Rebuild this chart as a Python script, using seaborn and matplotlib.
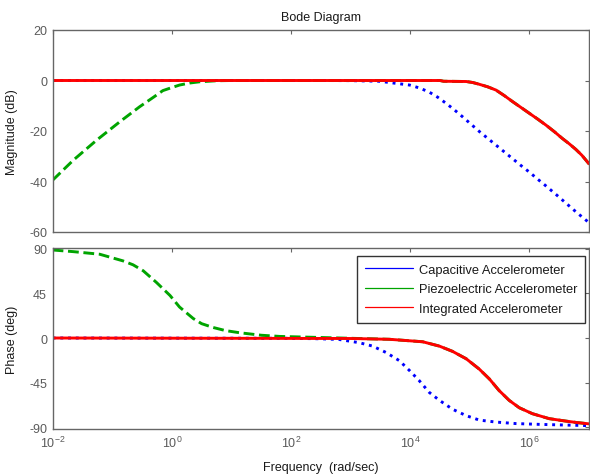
import numpy as np
import pandas as pd
import matplotlib
matplotlib.use("Agg")
import matplotlib.pyplot as plt
from matplotlib.lines import Line2D
from matplotlib.ticker import LogLocator, NullLocator
import seaborn as sns

# Values (frequency given as log10 of rad/sec)
cap_mag_logw = [-2.0, 2.5, 3.0, 3.48, 3.99, 4.16, 4.32, 4.46, 4.60, 4.74, 4.88, 5.02, 5.16,
                5.30, 5.44, 5.58, 5.72, 5.86, 6.0, 6.14, 6.28, 6.45, 6.61, 6.80, 7.0]
cap_mag_db = [0.0, 0.0, -0.05, -0.3, -1.8, -3.0, -4.6, -6.6, -9.0, -11.6, -14.4, -17.3, -20.2,
              -22.9, -25.6, -28.3, -31.0, -33.7, -36.3, -39.1, -41.8, -45.2, -48.5, -52.4, -56.3]

int_mag_logw = [-2.0, 4.0, 4.50, 4.56, 4.94, 5.05, 5.16, 5.30, 5.44, 5.58, 5.72, 5.86, 6.0,
                6.14, 6.28, 6.42, 6.55, 6.67, 6.78, 6.88, 7.0]
int_mag_db = [0.0, 0.0, 0.0, -0.3, -0.4, -0.8, -1.5, -2.5, -3.8, -6.0, -8.4, -10.7, -13.0,
              -15.3, -17.7, -20.3, -22.9, -25.1, -27.3, -29.6, -33.0]

piezo_mag_logw_low = [-2.0, -1.65, -1.26, -0.87, -0.54, -0.30, -0.15, 0.0, 0.13, 0.30, 0.47,
                      0.75, 1.0, 3.0]
piezo_mag_db_low = [-39.5, -31.5, -23.6, -16.3, -10.4, -6.5, -4.0, -2.8, -1.8, -1.0, -0.5,
                    -0.1, 0.0, 0.0]

cap_ph_logw = [-2.0, 2.0, 2.5, 2.81, 3.15, 3.37, 3.60, 3.82, 3.99, 4.15, 4.32, 4.49, 4.71,
               4.94, 5.16, 5.44, 5.77, 6.16, 6.60, 7.0]
cap_ph_deg = [0.0, -0.3, -0.8, -1.5, -4.8, -8.2, -14.8, -23.0, -33.0, -43.0, -55.0, -63.0,
              -72.0, -78.5, -83.0, -85.0, -86.5, -87.3, -88.0, -88.6]

int_ph_logw = [-2.0, 3.0, 3.65, 4.21, 4.49, 4.71, 4.94, 5.16, 5.33, 5.49, 5.66, 5.83, 6.05,
               6.33, 6.61, 6.80, 7.0]
int_ph_deg = [0.0, -0.5, -1.3, -3.8, -8.2, -13.5, -21.0, -31.5, -41.5, -53.0, -63.0, -70.5,
              -76.5, -81.5, -84.0, -85.5, -86.8]

piezo_ph_logw_low = [-2.0, -1.65, -1.21, -0.82, -0.65, -0.48, -0.26, -0.03, 0.13, 0.36, 0.50,
                     0.69, 0.90, 1.14, 1.50, 1.81, 2.5]
piezo_ph_deg_low = [89.0, 87.3, 84.7, 78.0, 74.0, 68.0, 56.3, 43.0, 31.3, 19.7, 14.5,
                    10.7, 7.5, 5.3, 2.8, 1.6, 0.5]

series_names = ["Capacitive Accelerometer", "Piezoelectric Accelerometer", "Integrated Accelerometer"]
series_colors = ["#0000ff", "#00a400", "#ff0000"]
series_styles = [":", "--", "-"]

mag_ticks = [-60, -40, -20, 0, 20]
phase_ticks = [-90, -45, 0, 45, 90]


def tail(logw, vals, start):
    # part of a curve beyond a given frequency
    return [(w, v) for w, v in zip(logw, vals) if w > start]


# piezo follows the integrated curve at high frequency (hidden under red)
pm = list(zip(piezo_mag_logw_low, piezo_mag_db_low)) + tail(int_mag_logw, int_mag_db, 3.0)
pp = list(zip(piezo_ph_logw_low, piezo_ph_deg_low)) + tail(int_ph_logw, int_ph_deg, 3.0)

mag_data = [
    (cap_mag_logw, cap_mag_db),
    ([p[0] for p in pm], [p[1] for p in pm]),
    (int_mag_logw, int_mag_db),
]
phase_data = [
    (cap_ph_logw, cap_ph_deg),
    ([p[0] for p in pp], [p[1] for p in pp]),
    (int_ph_logw, int_ph_deg),
]

sns.set_theme(style="white")
plt.rcParams["font.family"] = ["Liberation Sans", "DejaVu Sans"]
plt.rcParams["mathtext.fontset"] = "custom"
plt.rcParams["mathtext.rm"] = "Liberation Sans"
plt.rcParams["axes.unicode_minus"] = False

fig = plt.figure(figsize=(5.9, 4.77), dpi=100)
W, H = 590.0, 477.0
left, right = 52.6, 589.0
ax_mag = fig.add_axes([left / W, 1 - 233 / H, (right - left) / W, (233 - 31) / H])
ax_ph = fig.add_axes([left / W, 1 - 430 / H, (right - left) / W, (430 - 249) / H])

for ax, data in [(ax_mag, mag_data), (ax_ph, phase_data)]:
    for (lw_, vals), col, ls in zip(data, series_colors, series_styles):
        df = pd.DataFrame({"w": np.power(10.0, lw_), "v": vals})
        sns.lineplot(data=df, x="w", y="v", ax=ax, color=col, linestyle=ls,
                     linewidth=2.1, sort=False, estimator=None,
                     solid_joinstyle="round", dash_joinstyle="round")
    ax.set_xscale("log")
    ax.set_xlim(1e-2, 1e7)
    ax.xaxis.set_major_locator(LogLocator(base=100.0, numticks=10))
    ax.xaxis.set_minor_locator(NullLocator())
    ax.tick_params(direction="in", length=3, width=0.8, colors="#666666",
                   labelcolor="#5a5a5a", labelsize=9, top=True, right=True,
                   pad=4)
    for s in ax.spines.values():
        s.set_color("#666666")
        s.set_linewidth(1.0)
    ax.set_xlabel("")
    ax.set_ylabel("")

ax_mag.set_ylim(-60, 20)
ax_mag.set_yticks(mag_ticks)
ax_mag.tick_params(labelbottom=False)
ax_ph.set_ylim(-92, 91)
ax_ph.set_yticks(phase_ticks)

ax_mag.set_title("Bode Diagram", fontsize=9, color="#1a1a1a", pad=7)
ax_mag.set_ylabel("Magnitude (dB)", fontsize=9, color="#1a1a1a")
ax_ph.set_ylabel("Phase (deg)", fontsize=9, color="#1a1a1a")
ax_mag.yaxis.set_label_coords(-0.064, 0.5)
ax_ph.yaxis.set_label_coords(-0.064, 0.5)
ax_ph.set_xlabel("Frequency  (rad/sec)", fontsize=9, color="#1a1a1a", labelpad=8)

handles = [Line2D([0], [0], color=c, lw=0.9) for c in series_colors]
leg = ax_ph.legend(handles, series_names, loc="upper right",
                   bbox_to_anchor=(0.9925, 0.956), borderaxespad=0,
                   prop={"size": 9.3}, frameon=True, fancybox=False,
                   handlelength=3.7, handletextpad=0.45, labelspacing=0.58,
                   borderpad=0.6)
leg.get_frame().set_edgecolor("black")
leg.get_frame().set_linewidth(1.0)
for t in leg.get_texts():
    t.set_color("#1a1a1a")

fig.savefig("out.png", dpi=100)
